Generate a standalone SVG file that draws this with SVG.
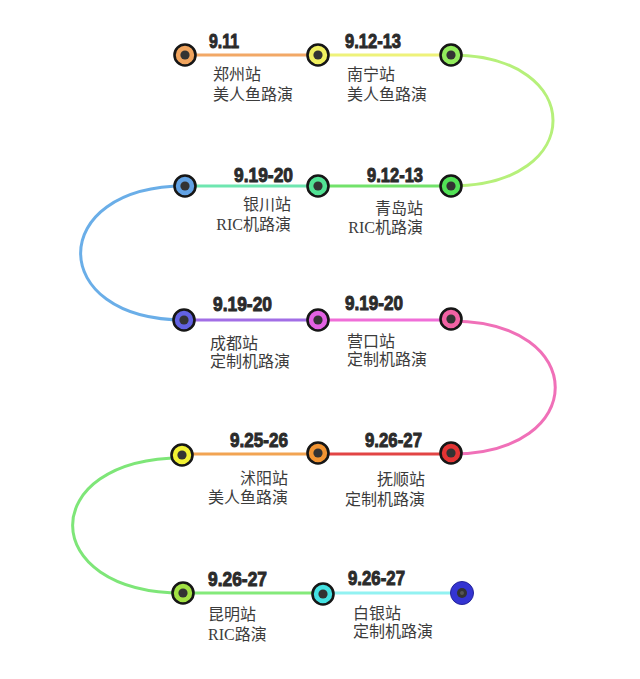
<svg xmlns="http://www.w3.org/2000/svg" width="640" height="679" viewBox="0 0 640 679">
<style>
.ln{fill:none;stroke-width:3;stroke-linecap:round}
.ring{stroke:#161616;stroke-width:2.6}
.dot{fill:#333}
.dt{font-family:"Liberation Sans","DejaVu Sans",sans-serif;font-weight:bold;font-size:21px;fill:#2b2b2b;stroke:#2b2b2b;stroke-width:1}
.lb{font-family:"Liberation Serif","Noto Sans CJK SC",serif;font-size:16px;fill:#3c3c3c}
.e{text-anchor:end}
</style>
<rect width="640" height="679" fill="#ffffff"/>
<g id="connectors">
<line class="ln" x1="185" y1="55" x2="318" y2="55" stroke="#f2a866"/>
<line class="ln" x1="318" y1="55" x2="451" y2="55" stroke="#eef27a"/>
<path class="ln" d="M451,55 C587,55 587,186 451,186" stroke="#b6f07a"/>
<line class="ln" x1="451" y1="186" x2="318" y2="186" stroke="#72e26a"/>
<line class="ln" x1="318" y1="186" x2="185" y2="186" stroke="#6ee6b0"/>
<path class="ln" d="M185,186 C46,186 46,320 184,320" stroke="#6aaee8"/>
<line class="ln" x1="184" y1="320" x2="318" y2="320" stroke="#a26ee6"/>
<line class="ln" x1="318" y1="320" x2="451" y2="320" stroke="#f06ed8"/>
<path class="ln" d="M451,321 C590,321 590,454 451,454" stroke="#f070b8"/>
<line class="ln" x1="451" y1="454" x2="318" y2="454" stroke="#e24444"/>
<line class="ln" x1="318" y1="454" x2="182" y2="454" stroke="#f2a452"/>
<path class="ln" d="M182,458 C36,458 36,593 183,593" stroke="#7ee678"/>
<line class="ln" x1="183" y1="593" x2="323" y2="593" stroke="#84ea7a"/>
<line class="ln" x1="323" y1="593" x2="462" y2="593" stroke="#92f2f2"/>
</g>
<g id="n1"><circle class="ring" cx="185" cy="55" r="10.5" fill="#f0a45e"/><circle class="dot" cx="185" cy="55" r="4.6"/><text class="dt" x="209" y="48" textLength="30" lengthAdjust="spacingAndGlyphs">9.11</text><text class="lb" x="213" y="80">郑州站</text><text class="lb" x="213" y="100">美人鱼路演</text></g>
<g id="n2"><circle class="ring" cx="318" cy="55" r="10.5" fill="#f0f060"/><circle class="dot" cx="318" cy="55" r="4.6"/><text class="dt" x="345" y="48" textLength="56" lengthAdjust="spacingAndGlyphs">9.12-13</text><text class="lb" x="347" y="80">南宁站</text><text class="lb" x="347" y="100">美人鱼路演</text></g>
<g id="n3"><circle class="ring" cx="451" cy="55" r="10.5" fill="#92ec5c"/><circle class="dot" cx="451" cy="55" r="4.6"/></g>
<g id="n4"><circle class="ring" cx="451" cy="186" r="10.5" fill="#52e256"/><circle class="dot" cx="451" cy="186" r="4.6"/><text class="dt" x="367" y="181.5" textLength="56" lengthAdjust="spacingAndGlyphs">9.12-13</text><text class="lb e" x="423" y="213.5">青岛站</text><text class="lb e" x="423" y="232.5">RIC机路演</text></g>
<g id="n5"><circle class="ring" cx="318" cy="186" r="10.5" fill="#52e294"/><circle class="dot" cx="318" cy="186" r="4.6"/><text class="dt" x="234" y="181.5" textLength="59" lengthAdjust="spacingAndGlyphs">9.19-20</text><text class="lb e" x="291" y="210">银川站</text><text class="lb e" x="291" y="230">RIC机路演</text></g>
<g id="n6"><circle class="ring" cx="185" cy="186" r="10.5" fill="#62a2e4"/><circle class="dot" cx="185" cy="186" r="4.6"/></g>
<g id="n7"><circle class="ring" cx="184" cy="320" r="10.5" fill="#6262e2"/><circle class="dot" cx="184" cy="320" r="4.6"/><text class="dt" x="213" y="311" textLength="59" lengthAdjust="spacingAndGlyphs">9.19-20</text><text class="lb" x="210" y="348.5">成都站</text><text class="lb" x="210" y="366.5">定制机路演</text></g>
<g id="n8"><circle class="ring" cx="318" cy="320" r="10.5" fill="#e262e2"/><circle class="dot" cx="318" cy="320" r="4.6"/><text class="dt" x="345" y="310" textLength="58" lengthAdjust="spacingAndGlyphs">9.19-20</text><text class="lb" x="347" y="346.5">营口站</text><text class="lb" x="347" y="365">定制机路演</text></g>
<g id="n9"><circle class="ring" cx="451" cy="319" r="10.5" fill="#f262a4"/><circle class="dot" cx="451" cy="319" r="4.6"/></g>
<g id="n10"><circle class="ring" cx="451" cy="453" r="10.5" fill="#e43434"/><circle class="dot" cx="451" cy="453" r="4.6"/><text class="dt" x="365" y="446.5" textLength="57" lengthAdjust="spacingAndGlyphs">9.26-27</text><text class="lb e" x="425" y="485">抚顺站</text><text class="lb e" x="425" y="505">定制机路演</text></g>
<g id="n11"><circle class="ring" cx="318" cy="453" r="10.5" fill="#f29432"/><circle class="dot" cx="318" cy="453" r="4.6"/><text class="dt" x="230" y="446.5" textLength="58" lengthAdjust="spacingAndGlyphs">9.25-26</text><text class="lb e" x="288" y="483.5">沭阳站</text><text class="lb e" x="288" y="503">美人鱼路演</text></g>
<g id="n12"><circle class="ring" cx="182" cy="455" r="10.5" fill="#f2f234"/><circle class="dot" cx="182" cy="455" r="4.6"/></g>
<g id="n13"><circle class="ring" cx="183" cy="593" r="10.5" fill="#a2e244"/><circle class="dot" cx="183" cy="593" r="4.6"/><text class="dt" x="208" y="586" textLength="59" lengthAdjust="spacingAndGlyphs">9.26-27</text><text class="lb" x="208" y="620">昆明站</text><text class="lb" x="208" y="640">RIC路演</text></g>
<g id="n14"><circle class="ring" cx="323" cy="594" r="10.5" fill="#44e2e2"/><circle class="dot" cx="323" cy="594" r="4.6"/><text class="dt" x="348" y="585" textLength="57" lengthAdjust="spacingAndGlyphs">9.26-27</text><text class="lb" x="353" y="618.5">白银站</text><text class="lb" x="353" y="636.5">定制机路演</text></g>
<g id="n15"><circle cx="462" cy="593" r="11.5" fill="#3434d2" stroke="#24249a" stroke-width="1"/><circle cx="462" cy="593" r="5" fill="#333"/><circle cx="462" cy="593" r="2" fill="#555"/></g>
</svg>
